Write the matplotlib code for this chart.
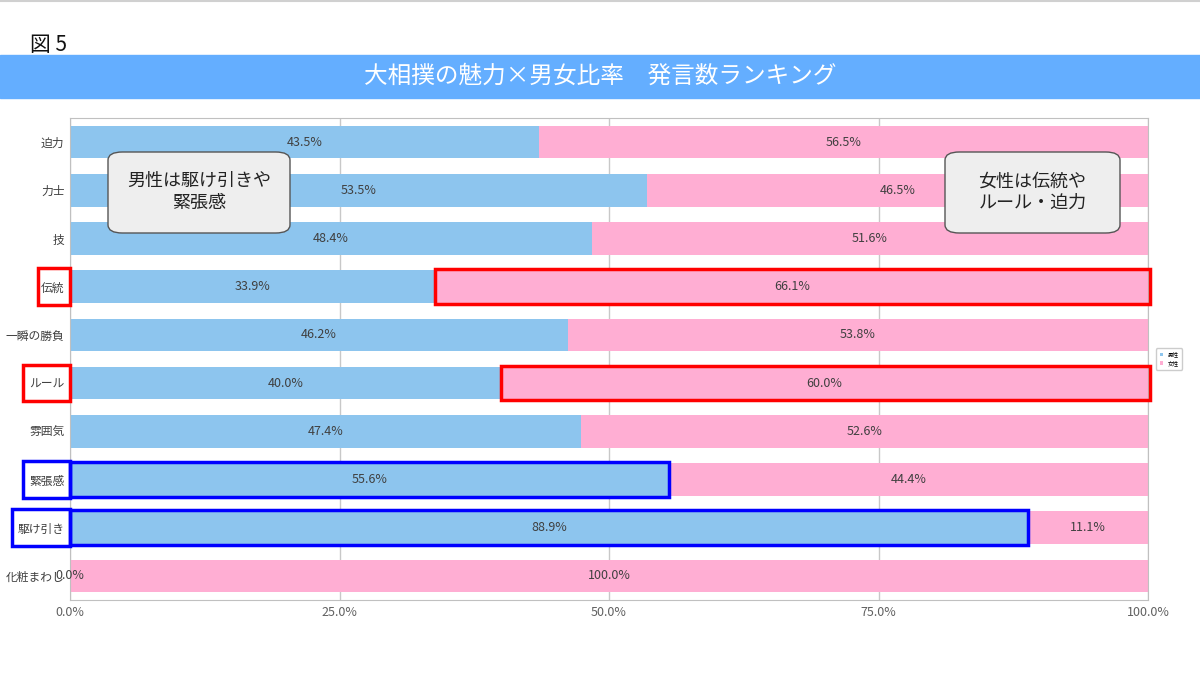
import matplotlib.pyplot as plt
from matplotlib.patches import Rectangle, FancyBboxPatch
import matplotlib.transforms as mtransforms

plt.rcParams['font.family'] = ['Noto Sans CJK JP', 'DejaVu Sans']

# データ
categories = ['迫力', '力士', '技', '伝統', '一瞬の勝負', 'ルール', '雰囲気', '緊張感', '駆け引き', '化粧まわし']
male = [43.5, 53.5, 48.4, 33.9, 46.2, 40.0, 47.4, 55.6, 88.9, 0.0]
female = [56.5, 46.5, 51.6, 66.1, 53.8, 60.0, 52.6, 44.4, 11.1, 100.0]
series_names = ['男性', '女性']
xticks = [0, 25, 50, 75, 100]

# 強調する項目
red_items = ['伝統', 'ルール']
blue_items = ['緊張感', '駆け引き']

c_male = '#8DC5EE'
c_female = '#FFAED3'

fig = plt.figure(figsize=(12, 6.76), dpi=100)

# 上の細い線と見出し
fig.add_artist(plt.Line2D([0, 1], [0.998, 0.998], color='#d0d0d0', lw=1.5))
fig.text(30 / 1200, 1 - 45 / 676, '図 5', fontsize=15, va='center', ha='left', color='#111111')
fig.add_artist(Rectangle((0, 1 - 98 / 676), 1, 43 / 676, color='#64AEFF', transform=fig.transFigure))
fig.text(0.5, 1 - 76 / 676, '大相撲の魅力×男女比率　発言数ランキング', fontsize=17, color='white',
         ha='center', va='center')

ax = fig.add_axes([70 / 1200, 1 - 600 / 676, 1078 / 1200, 482 / 676])
y = list(range(len(categories)))
h = 0.68
ax.barh(y, male, height=h, color=c_male, label=series_names[0], zorder=2)
ax.barh(y, female, left=male, height=h, color=c_female, label=series_names[1], zorder=2)

for i in y:
    ax.text(male[i] / 2, i, f'{male[i]:.1f}%', ha='center', va='center', fontsize=9, color='#404040', zorder=3)
    ax.text(male[i] + female[i] / 2, i, f'{female[i]:.1f}%', ha='center', va='center', fontsize=9,
            color='#404040', zorder=3)

ax.set_xlim(0, 100)
ax.set_ylim(len(categories) - 0.5, -0.5)
ax.set_yticks(y)
ax.set_yticklabels(categories, fontsize=8.5, color='#404040')
ax.set_xticks(xticks)
ax.set_xticklabels([f'{v:.1f}%' for v in xticks], fontsize=9, color='#606060')
ax.tick_params(length=0, pad=4)
ax.grid(axis='x', color='#c8c8c8', lw=1, zorder=0)
for s in ax.spines.values():
    s.set_color('#c0c0c0')

# 強調枠
lab_tr = mtransforms.blended_transform_factory(ax.transAxes, ax.transData)
label_left = {'伝統': -0.030, 'ルール': -0.044, '緊張感': -0.044, '駆け引き': -0.054}
for name in red_items + blue_items:
    i = categories.index(name)
    col = 'red' if name in red_items else 'blue'
    if name in red_items:
        x0, w = male[i], female[i] + 0.2
    else:
        x0, w = 0, male[i]
    ax.add_patch(Rectangle((x0, i - 0.36), w, 0.72, fill=False, ec=col, lw=2.5, zorder=4, clip_on=False))
    lx = label_left[name]
    ax.add_patch(Rectangle((lx, i - 0.38), -lx, 0.76, fill=False, ec=col, lw=2.5, zorder=4,
                           clip_on=False, transform=lab_tr))

# 吹き出し
for x0, x1, txt in [(108, 290, '男性は駆け引きや\n緊張感'), (945, 1120, '女性は伝統や\nルール・迫力')]:
    bx = x0 / 1200
    by = 1 - 233 / 676
    fig.add_artist(FancyBboxPatch((bx, by), (x1 - x0) / 1200, 81 / 676,
                                  boxstyle='round,pad=0,rounding_size=0.012', fc='#EEEEEE', ec='#555555',
                                  lw=1, transform=fig.transFigure, zorder=5))
    fig.text((x0 + x1) / 2400, 1 - 192 / 676, txt, fontsize=13, ha='center', va='center',
             color='#222222', zorder=6, linespacing=1.25)

leg = ax.legend(loc='center left', bbox_to_anchor=(1.005, 0.5), fontsize=4, frameon=True,
                handlelength=0.6, handleheight=0.6, borderpad=0.6)
leg.get_frame().set_edgecolor('#c0c0c0')

fig.savefig('out.png', dpi=100)
